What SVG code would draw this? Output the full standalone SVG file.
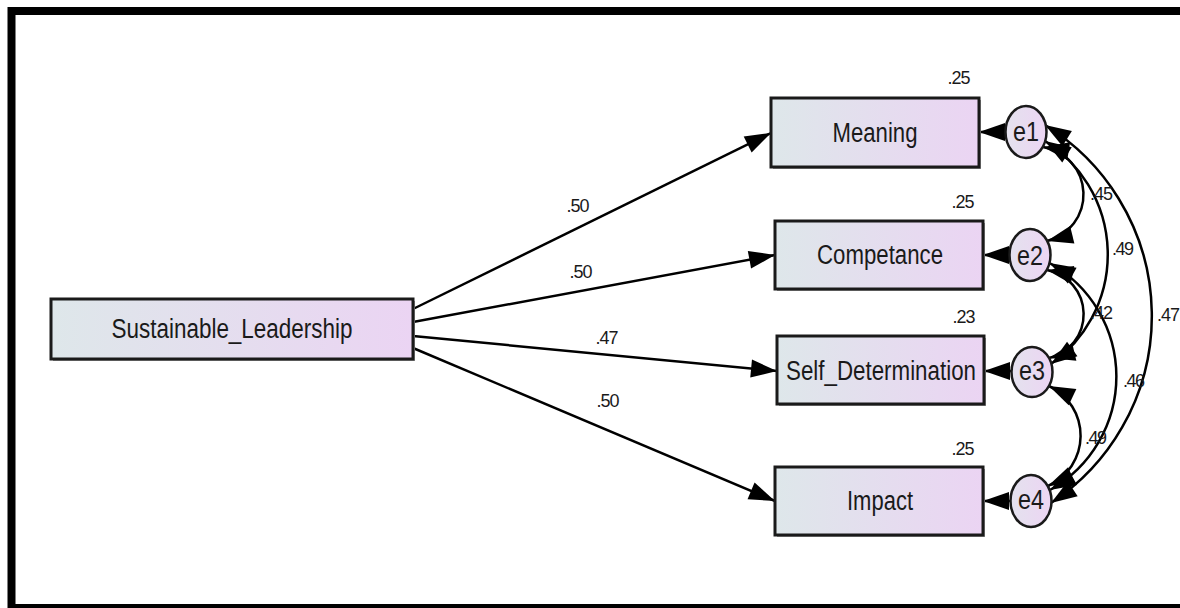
<svg xmlns="http://www.w3.org/2000/svg" width="1180" height="608" viewBox="0 0 1180 608">
  <defs>
    <linearGradient id="fillBox" x1="0" y1="0" x2="1" y2="0">
      <stop offset="0" stop-color="#dee7ea"/>
      <stop offset="1" stop-color="#ebd4f3"/>
    </linearGradient>
    <linearGradient id="fillErr" x1="0" y1="0" x2="1" y2="0">
      <stop offset="0" stop-color="#e4e2ee"/>
      <stop offset="1" stop-color="#ecd5f3"/>
    </linearGradient>
    <marker id="head" markerUnits="userSpaceOnUse" orient="auto-start-reverse" refX="0" refY="0" markerWidth="30" markerHeight="20" overflow="visible">
      <path d="M0,0 L-26,-9 L-26,9 Z" fill="#000"/>
    </marker>
    <style>
      .box { fill: url(#fillBox); stroke: #1a1a1a; stroke-width: 3; }
      .shadow { fill: #9a9a9a; }
      .err { fill: url(#fillErr); stroke: #1a1a1a; stroke-width: 2.5; }
      .lbl { font-family: "Liberation Sans", Arial, sans-serif; font-size: 27px; fill: #1a1a1a; text-anchor: middle; }
      .num { font-family: "Liberation Sans", Arial, sans-serif; font-size: 18px; fill: #1a1a1a; }
      .mid { text-anchor: middle; }
      .path { fill: none; stroke: #000; stroke-width: 2.5; marker-end: url(#head); }
      .cov { fill: none; stroke: #000; stroke-width: 2.5; marker-start: url(#head); marker-end: url(#head); }
    </style>
  </defs>

  <rect width="1180" height="608" fill="#fff"/>
  <!-- outer frame (open on the right) -->
  <rect x="11.5" y="11" width="1200" height="597" fill="none" stroke="#000" stroke-width="8"/>

  <!-- connectors -->
  <g id="connectors">
    <path class="path" d="M 413 309 L 771 133"/>
    <path class="path" d="M 413 322 L 775 255"/>
    <path class="path" d="M 413 336 L 777 371"/>
    <path class="path" d="M 413 348 L 775 501"/>

    <path class="path" d="M 1005.5 132 L 979 132"/>
    <path class="path" d="M 1009.5 255 L 983 255"/>
    <path class="path" d="M 1011.5 371 L 984 371"/>
    <path class="path" d="M 1010.5 501 L 983 501"/>

    <path class="cov" d="M 1045 125 A 224 224 0 0 1 1051 503"/>
    <path class="cov" d="M 1045 141 A 134 134 0 0 1 1051 364"/>
    <path class="cov" d="M 1043 147 A 48 48 0 0 1 1047 241"/>
    <path class="cov" d="M 1047 270 A 45 45 0 0 1 1049 358"/>
    <path class="cov" d="M 1049.5 263 A 130 130 0 0 1 1050 490"/>
    <path class="cov" d="M 1049 386 A 55 55 0 0 1 1048 486"/>

    <text class="num mid" x="578" y="212" textLength="23">.50</text>
    <text class="num mid" x="581" y="278" textLength="23">.50</text>
    <text class="num mid" x="607" y="344" textLength="23">.47</text>
    <text class="num mid" x="608" y="407" textLength="23">.50</text>

    <text class="num" x="1090" y="200" textLength="23">.45</text>
    <text class="num" x="1112" y="255" textLength="22">.49</text>
    <text class="num" x="1090" y="319" textLength="23">.42</text>
    <text class="num" x="1157" y="321" textLength="23">.47</text>
    <text class="num" x="1123" y="387" textLength="22">.46</text>
    <text class="num" x="1085" y="444" textLength="22">.49</text>
  </g>

  <!-- observed variables -->
  <g id="Sustainable_Leadership">
    <rect class="shadow" x="53" y="301" width="362" height="60"/>
    <rect class="box" x="51" y="299" width="362" height="60"/>
    <text class="lbl" x="232" y="338" textLength="241" lengthAdjust="spacingAndGlyphs">Sustainable_Leadership</text>
  </g>

  <g id="Meaning">
    <rect class="shadow" x="773" y="100" width="208" height="69"/>
    <rect class="box" x="771" y="98" width="208" height="69"/>
    <text class="lbl" x="875" y="142" textLength="85" lengthAdjust="spacingAndGlyphs">Meaning</text>
    <text class="num mid" x="959" y="84" textLength="23">.25</text>
  </g>

  <g id="Competance">
    <rect class="shadow" x="777" y="223" width="208" height="68"/>
    <rect class="box" x="775" y="221" width="208" height="68"/>
    <text class="lbl" x="880" y="264" textLength="126" lengthAdjust="spacingAndGlyphs">Competance</text>
    <text class="num mid" x="963" y="208" textLength="23">.25</text>
  </g>

  <g id="Self_Determination">
    <rect class="shadow" x="779" y="338" width="207" height="68"/>
    <rect class="box" x="777" y="336" width="207" height="68"/>
    <text class="lbl" x="881" y="380" textLength="190" lengthAdjust="spacingAndGlyphs">Self_Determination</text>
    <text class="num mid" x="964" y="323" textLength="23">.23</text>
  </g>

  <g id="Impact">
    <rect class="shadow" x="777" y="469" width="208" height="68"/>
    <rect class="box" x="775" y="467" width="208" height="68"/>
    <text class="lbl" x="880" y="510" textLength="66" lengthAdjust="spacingAndGlyphs">Impact</text>
    <text class="num mid" x="963" y="455" textLength="23">.25</text>
  </g>

  <!-- error terms -->
  <g id="e1">
    <ellipse class="err" cx="1026" cy="132" rx="20.5" ry="26"/>
    <text class="lbl" x="1026" y="141" textLength="26" lengthAdjust="spacingAndGlyphs">e1</text>
  </g>
  <g id="e2">
    <ellipse class="err" cx="1030" cy="255" rx="20.5" ry="26"/>
    <text class="lbl" x="1030" y="265" textLength="26" lengthAdjust="spacingAndGlyphs">e2</text>
  </g>
  <g id="e3">
    <ellipse class="err" cx="1032" cy="372" rx="20.5" ry="25"/>
    <text class="lbl" x="1032" y="380" textLength="26" lengthAdjust="spacingAndGlyphs">e3</text>
  </g>
  <g id="e4">
    <ellipse class="err" cx="1031" cy="501" rx="20.5" ry="26"/>
    <text class="lbl" x="1031" y="509" textLength="26" lengthAdjust="spacingAndGlyphs">e4</text>
  </g>
</svg>
